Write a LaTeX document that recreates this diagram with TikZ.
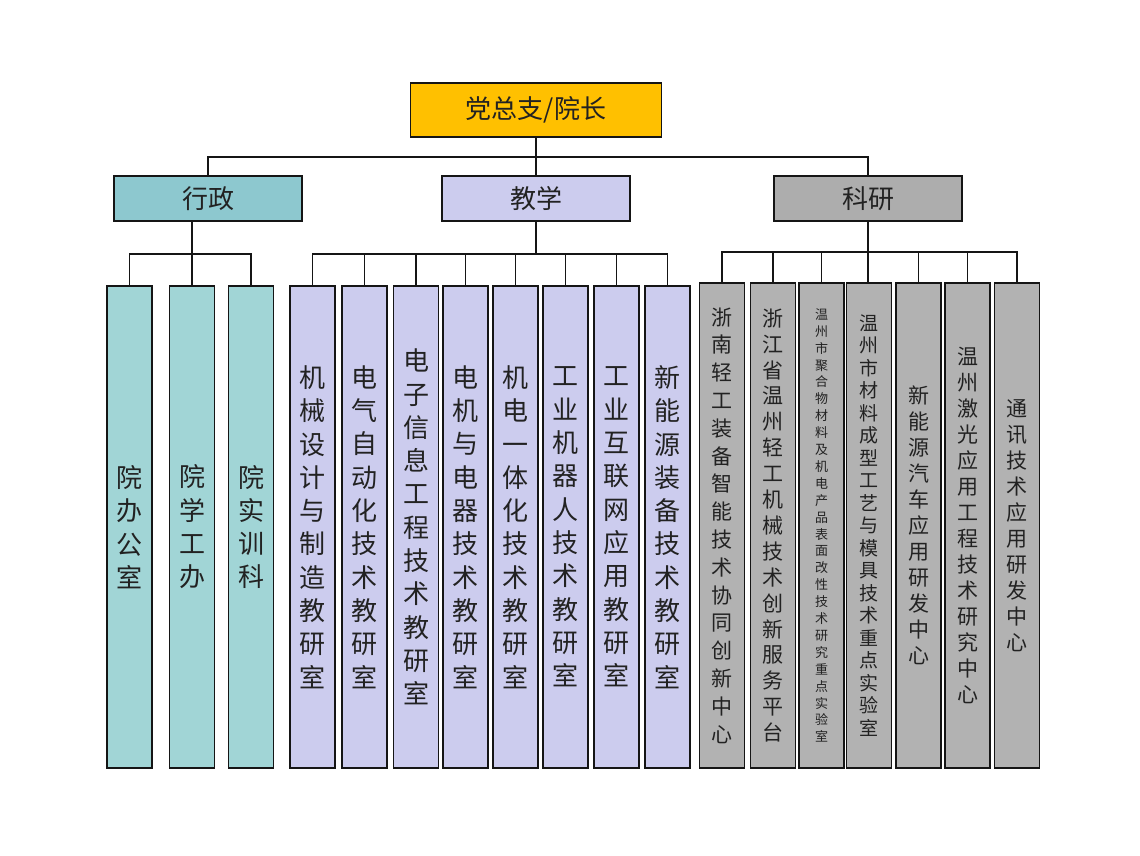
\documentclass[tikz,border=0pt]{standalone}
\usepackage{fontspec}
\setmainfont{Noto Sans CJK SC}
\definecolor{linec}{HTML}{151515}
\definecolor{textc}{HTML}{222222}
\definecolor{topc}{HTML}{FFC000}
\definecolor{xzc}{HTML}{8DC8CF}
\definecolor{xzleaf}{HTML}{A1D5D6}
\definecolor{jxc}{HTML}{CCCCEE}
\definecolor{kyc}{HTML}{ADADAD}
\definecolor{kyleaf}{HTML}{B2B2B2}
\begin{document}
\begin{tikzpicture}[x=1pt,y=-1pt,
  box/.style={draw=linec,line width=1.8pt,rectangle,inner sep=0pt,align=center,text=textc},
  conn/.style={draw=linec,line width=1.8pt},
  lvone/.style={box,minimum width=188pt,minimum height=45pt,font=\fontsize{26}{30}\selectfont},
  leaf/.style={box,minimum width=45pt,minimum height=482pt,font=\fontsize{26}{33.3}\selectfont},
  kleaf/.style={box,fill=kyleaf,minimum width=45pt,minimum height=485pt}]
\useasboundingbox[fill=white] (0,0) rectangle (1140,855);

% top
\node[box,fill=topc,minimum width=251pt,minimum height=54pt,font=\fontsize{26}{30}\selectfont] (top) at (536,110) {党总支/院长};

% level one
\node[lvone,fill=xzc] (xz) at (208,198.5) {行政};
\node[lvone,fill=jxc] (jx) at (536,198.5) {教学};
\node[lvone,fill=kyc] (ky) at (868,198.5) {科研};

% 行政 leaves
\node[leaf,fill=xzleaf] (a1) at (129.5,527) {院\\办\\公\\室};
\node[leaf,fill=xzleaf] (a2) at (192,527) {院\\学\\工\\办};
\node[leaf,fill=xzleaf] (a3) at (251,527) {院\\实\\训\\科};

% 教学 leaves
\node[leaf,fill=jxc] (t1) at (312.5,527) {机\\械\\设\\计\\与\\制\\造\\教\\研\\室};
\node[leaf,fill=jxc] (t2) at (364.5,527) {电\\气\\自\\动\\化\\技\\术\\教\\研\\室};
\node[leaf,fill=jxc] (t3) at (416,527) {电\\子\\信\\息\\工\\程\\技\\术\\教\\研\\室};
\node[leaf,fill=jxc] (t4) at (465.5,527) {电\\机\\与\\电\\器\\技\\术\\教\\研\\室};
\node[leaf,fill=jxc] (t5) at (515.5,527) {机\\电\\一\\体\\化\\技\\术\\教\\研\\室};
\node[leaf,fill=jxc] (t6) at (565.5,527) {工\\业\\机\\器\\人\\技\\术\\教\\研\\室};
\node[leaf,fill=jxc] (t7) at (616.5,527) {工\\业\\互\\联\\网\\应\\用\\教\\研\\室};
\node[leaf,fill=jxc] (t8) at (667.5,527) {新\\能\\源\\装\\备\\技\\术\\教\\研\\室};

% 科研 leaves
\node[kleaf,font=\fontsize{21}{27.8}\selectfont] (k1) at (722,525.5) {浙\\南\\轻\\工\\装\\备\\智\\能\\技\\术\\协\\同\\创\\新\\中\\心};
\node[kleaf,font=\fontsize{21}{25.9}\selectfont] (k2) at (773,525.5) {浙\\江\\省\\温\\州\\轻\\工\\机\\械\\技\\术\\创\\新\\服\\务\\平\\台};
\node[kleaf,font=\fontsize{13}{16.9}\selectfont] (k3) at (821.5,525.5) {温\\州\\市\\聚\\合\\物\\材\\料\\及\\机\\电\\产\\品\\表\\面\\改\\性\\技\\术\\研\\究\\重\\点\\实\\验\\室};
\node[kleaf,font=\fontsize{19}{22.5}\selectfont] (k4) at (869,525.5) {温\\州\\市\\材\\料\\成\\型\\工\\艺\\与\\模\\具\\技\\术\\重\\点\\实\\验\\室};
\node[kleaf,font=\fontsize{21}{26}\selectfont] (k5) at (918.5,525.5) {新\\能\\源\\汽\\车\\应\\用\\研\\发\\中\\心};
\node[kleaf,font=\fontsize{21}{26}\selectfont] (k6) at (967.5,525.5) {温\\州\\激\\光\\应\\用\\工\\程\\技\\术\\研\\究\\中\\心};
\node[kleaf,font=\fontsize{21}{26}\selectfont] (k7) at (1017,525.5) {通\\讯\\技\\术\\应\\用\\研\\发\\中\\心};

% buses
\coordinate (busA) at (0,157);
\coordinate (busB) at (0,254);
\coordinate (busC) at (0,252);

% top level connectors
\draw[conn] (top.south) -- (top.south |- jx.north);
\draw[conn] (xz.north) -- (xz.north |- busA) -- (ky.north |- busA) -- (ky.north);

% 行政
\draw[conn] (a2.north |- xz.south) -- (a2.north);
\draw[conn] (a1.north) -- (a1.north |- busB) -- (a3.north |- busB) -- (a3.north);

% 教学
\draw[conn] (jx.south) -- (jx.south |- busB);
\draw[conn] (t1.north) -- (t1.north |- busB) -- (t8.north |- busB) -- (t8.north);
\foreach \n in {t2,t3,t4,t5,t6,t7} \draw[conn] (\n.north) -- (\n.north |- busB);

% 科研
\draw[conn] (ky.south) -- (ky.south |- k4.north);
\draw[conn] (k1.north) -- (k1.north |- busC) -- (k7.north |- busC) -- (k7.north);
\foreach \n in {k2,k3,k5,k6} \draw[conn] (\n.north) -- (\n.north |- busC);
\end{tikzpicture}
\end{document}
